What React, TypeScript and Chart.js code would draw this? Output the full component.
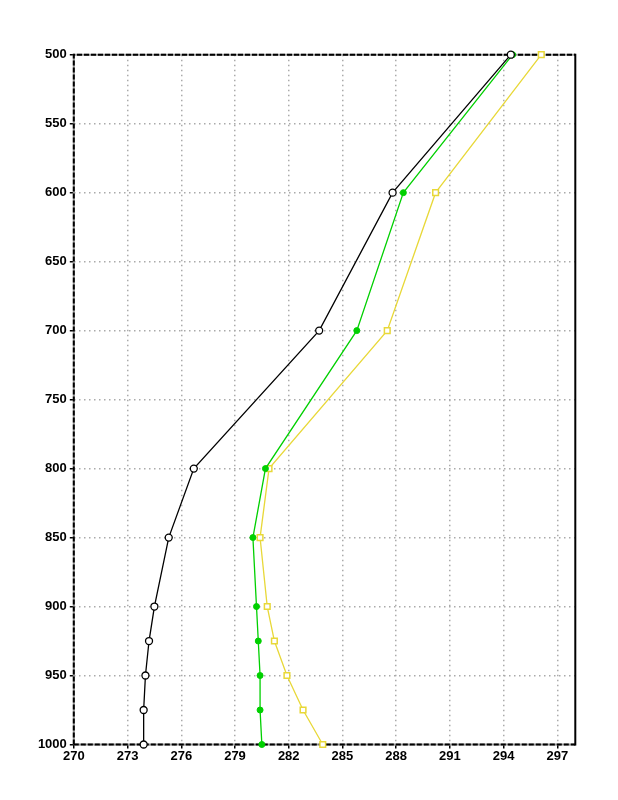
import React, { useEffect, useRef } from "react";
import { Chart, registerables } from "chart.js";

Chart.register(...registerables);

const levels = [500, 600, 700, 800, 850, 900, 925, 950, 975, 1000];
const blackSeries = [294.4, 287.8, 283.7, 276.7, 275.3, 274.5, 274.2, 274.0, 273.9, 273.9];
const greenSeries = [294.5, 288.4, 285.8, 280.7, 280.0, 280.2, 280.3, 280.4, 280.4, 280.5];
const yellowSeries = [296.1, 290.2, 287.5, 280.9, 280.4, 280.8, 281.2, 281.9, 282.8, 283.9];
const xTicks = [270, 273, 276, 279, 282, 285, 288, 291, 294, 297];
const yTicks = [500, 550, 600, 650, 700, 750, 800, 850, 900, 950, 1000];

const toPts = (vals: number[]) => vals.map((v, i) => ({ x: v, y: levels[i] }));

export default function App() {
  const ref = useRef<HTMLCanvasElement | null>(null);
  useEffect(() => {
    document.body.style.margin = "0";
    const ctx = ref.current!.getContext("2d")!;
    const font = {
      family: "'Liberation Sans', Arial, sans-serif",
      size: 13,
      weight: "bold" as const,
    };
    const chart = new Chart(ctx, {
      type: "scatter",
      data: {
        datasets: [
          {
            data: toPts(blackSeries),
            showLine: true,
            borderColor: "#000000",
            borderWidth: 1.3,
            pointStyle: "circle",
            pointRadius: 3.5,
            pointBackgroundColor: "#ffffff",
            pointBorderColor: "#000000",
            pointBorderWidth: 1.3,
            clip: false,
          },
          {
            data: toPts(greenSeries),
            showLine: true,
            borderColor: "#00d000",
            borderWidth: 1.3,
            pointStyle: "circle",
            pointRadius: 3,
            pointBackgroundColor: "#00d000",
            pointBorderColor: "#00d000",
            pointBorderWidth: 1,
            clip: false,
          },
          {
            data: toPts(yellowSeries),
            showLine: true,
            borderColor: "#e8d838",
            borderWidth: 1.3,
            pointStyle: "rect",
            pointRadius: 4,
            pointBackgroundColor: "#ffffff",
            pointBorderColor: "#e8d838",
            pointBorderWidth: 1.5,
            clip: false,
          },
        ],
      },
      options: {
        animation: false,
        responsive: false,
        maintainAspectRatio: false,
        layout: { padding: { top: 54.7, left: 0, right: 42.7, bottom: 30 } },
        plugins: { legend: { display: false }, tooltip: { enabled: false } },
        scales: {
          x: {
            type: "linear",
            min: 270,
            max: 298,
            afterBuildTicks: (s: any) => {
              s.ticks = xTicks.map((v) => ({ value: v }));
            },
            afterFit: (s: any) => {
              s.height = 25.5;
            },
            grid: {
              color: "#aaaaaa",
              lineWidth: 1.5,
              tickLength: 4,
              tickColor: "#000000",
            },
            border: { display: false, dash: [1.5, 3.5] },
            ticks: {
              color: "#000000",
              font,
              padding: 0,
              maxRotation: 0,
              autoSkip: false,
              callback: (v: any) => String(v),
            },
          },
          y: {
            type: "linear",
            min: 500,
            max: 1000,
            reverse: true,
            afterBuildTicks: (s: any) => {
              s.ticks = yTicks.map((v) => ({ value: v }));
            },
            afterFit: (s: any) => {
              s.width = 73.8;
            },
            grid: {
              color: "#aaaaaa",
              lineWidth: 1.5,
              tickLength: 4,
              tickColor: "#000000",
            },
            border: { display: false, dash: [1.5, 3.5] },
            ticks: {
              color: "#000000",
              font,
              padding: 3,
              autoSkip: false,
              callback: (v: any) => String(v),
            },
          },
        },
      },
      plugins: [
        {
          id: "frame",
          beforeDatasetsDraw: (c: any) => {
            const { ctx: g, chartArea: a } = c;
            g.save();
            g.lineWidth = 2;
            g.strokeStyle = "#9a9a9a";
            g.beginPath();
            g.moveTo(a.left, a.bottom);
            g.lineTo(a.left, a.top);
            g.lineTo(a.right, a.top);
            g.moveTo(a.left, a.bottom);
            g.lineTo(a.right, a.bottom);
            g.stroke();
            g.strokeStyle = "#000000";
            g.setLineDash([5, 2]);
            g.beginPath();
            g.moveTo(a.left, a.bottom);
            g.lineTo(a.left, a.top);
            g.lineTo(a.right, a.top);
            g.moveTo(a.left, a.bottom);
            g.lineTo(a.right, a.bottom);
            g.stroke();
            g.setLineDash([]);
            g.beginPath();
            g.moveTo(a.right, a.top - 1);
            g.lineTo(a.right, a.bottom + 1);
            g.stroke();
            g.restore();
          },
        },
      ],
    } as any);
    return () => chart.destroy();
  }, []);
  return (
    <div style={{ position: "absolute", left: 0, top: 0, width: 618, height: 800 }}>
      <canvas ref={ref} width={618} height={800} style={{ width: 618, height: 800 }} />
    </div>
  );
}
